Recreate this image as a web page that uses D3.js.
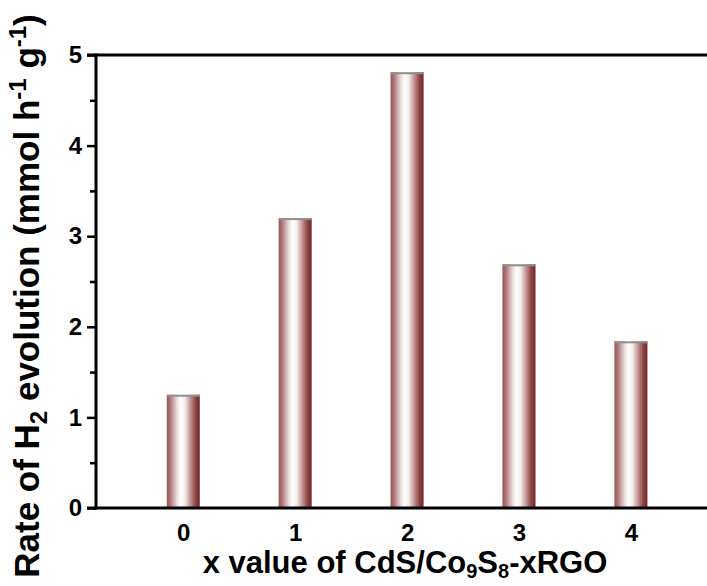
<!DOCTYPE html>
<html>
<head>
<meta charset="utf-8">
<script src="https://cdn.jsdelivr.net/npm/d3@7"></script>
<style>
  html, body { margin: 0; padding: 0; background: #fff; }
  svg { display: block; font-family: "Liberation Sans", Arial, Helvetica, sans-serif; font-weight: bold; }
</style>
</head>
<body>
<svg id="chart" width="707" height="586"></svg>
<script>
// x value of CdS/Co9S8-xRGO and the measured H2 evolution rate
const xValues = [0, 1, 2, 3, 4];
const rates = [1.25, 3.20, 4.81, 2.69, 1.84];
const yTicks = [0, 1, 2, 3, 4, 5];
const yMinorTicks = [0.5, 1.5, 2.5, 3.5, 4.5];

const svg = d3.select("#chart");
const plot = { left: 96, right: 707, top: 55, bottom: 508 };

const x = d3.scaleLinear().domain([-0.78, 4.68]).range([plot.left, plot.right]);
const y = d3.scaleLinear().domain([0, 5]).range([plot.bottom, plot.top]);

// cylinder-like shading across each bar
const defs = svg.append("defs");
const grad = defs.append("linearGradient").attr("id", "barShade")
  .attr("x1", "0%").attr("x2", "100%").attr("y1", "0%").attr("y2", "0%");
[
  [0, "#94504f"], [0.12, "#b37c7c"], [0.3, "#e9d9d9"], [0.42, "#ffffff"],
  [0.55, "#f4ebeb"], [0.72, "#c09191"], [0.88, "#8a4242"], [1, "#742828"]
].forEach(([o, c]) => grad.append("stop").attr("offset", o).attr("stop-color", c));

const barW = 33;
const bars = svg.append("g");
bars.selectAll("rect.bar").data(xValues).join("rect")
  .attr("class", "bar")
  .attr("x", (d) => x(d) - barW / 2)
  .attr("width", barW)
  .attr("y", (d, i) => y(rates[i]))
  .attr("height", (d, i) => y(0) - y(rates[i]))
  .attr("fill", "url(#barShade)");
bars.selectAll("rect.cap").data(xValues).join("rect")
  .attr("class", "cap")
  .attr("x", (d) => x(d) - barW / 2)
  .attr("width", barW)
  .attr("y", (d, i) => y(rates[i]))
  .attr("height", 2)
  .attr("fill", "#8f8f8f");

const labelFont = (sel) => sel
  .style("font-size", "24px").style("font-weight", "bold")
  .style("font-family", "'Liberation Sans', Arial, sans-serif").attr("fill", "#000");

// left axis with outward major and minor ticks
const yAxis = d3.axisLeft(y).tickValues(yTicks).tickSize(9).tickPadding(5).tickFormat(d3.format("d"));
const gy = svg.append("g").attr("transform", `translate(${plot.left},0)`).call(yAxis);
gy.select(".domain").remove();
gy.selectAll(".tick line").attr("stroke", "#000").attr("stroke-width", 2.5);
gy.selectAll(".tick text").call(labelFont);
const gyMinor = svg.append("g").attr("transform", `translate(${plot.left},0)`)
  .call(d3.axisLeft(y).tickValues(yMinorTicks).tickSize(6).tickFormat(""));
gyMinor.select(".domain").remove();
gyMinor.selectAll(".tick line").attr("stroke", "#000").attr("stroke-width", 2.5);

// bottom axis: tick labels only
const xAxis = d3.axisBottom(x).tickValues(xValues).tickSize(0).tickPadding(16).tickFormat(d3.format("d"));
const gx = svg.append("g").attr("transform", `translate(0,${plot.bottom})`).call(xAxis);
gx.select(".domain").remove();
gx.selectAll(".tick text").call(labelFont);

// frame lines: left, bottom, top
const frame = svg.append("g").attr("stroke", "#000").attr("stroke-width", 3).attr("fill", "none");
frame.append("line").attr("x1", plot.left).attr("x2", plot.left).attr("y1", plot.top - 1.5).attr("y2", plot.bottom + 1.5);
frame.append("line").attr("x1", plot.left - 9).attr("x2", plot.right).attr("y1", plot.bottom).attr("y2", plot.bottom);
frame.append("line").attr("x1", plot.left - 9).attr("x2", plot.right).attr("y1", plot.top).attr("y2", plot.top);

// axis titles
const xt = svg.append("text").attr("x", 405).attr("y", 573).attr("text-anchor", "middle")
  .style("font-size", "31px").attr("fill", "#000");
xt.append("tspan").text("x value of CdS/Co");
xt.append("tspan").style("font-size", "20px").attr("dy", 5).text("9");
xt.append("tspan").attr("dy", -5).text("S");
xt.append("tspan").style("font-size", "20px").attr("dy", 5).text("8");
xt.append("tspan").attr("dy", -5).text("-xRGO");

const yt = svg.append("text").attr("transform", "translate(39,296) rotate(-90)")
  .attr("text-anchor", "middle").style("font-size", "35px").attr("fill", "#000");
yt.append("tspan").text("Rate of H");
yt.append("tspan").style("font-size", "24px").attr("dy", 8).text("2");
yt.append("tspan").attr("dy", -8).text(" evolution (mmol h");
yt.append("tspan").style("font-size", "24px").attr("dy", -13).text("-1");
yt.append("tspan").attr("dy", 13).text(" g");
yt.append("tspan").style("font-size", "24px").attr("dy", -13).text("-1");
yt.append("tspan").attr("dy", 13).text(")");
</script>
</body>
</html>
